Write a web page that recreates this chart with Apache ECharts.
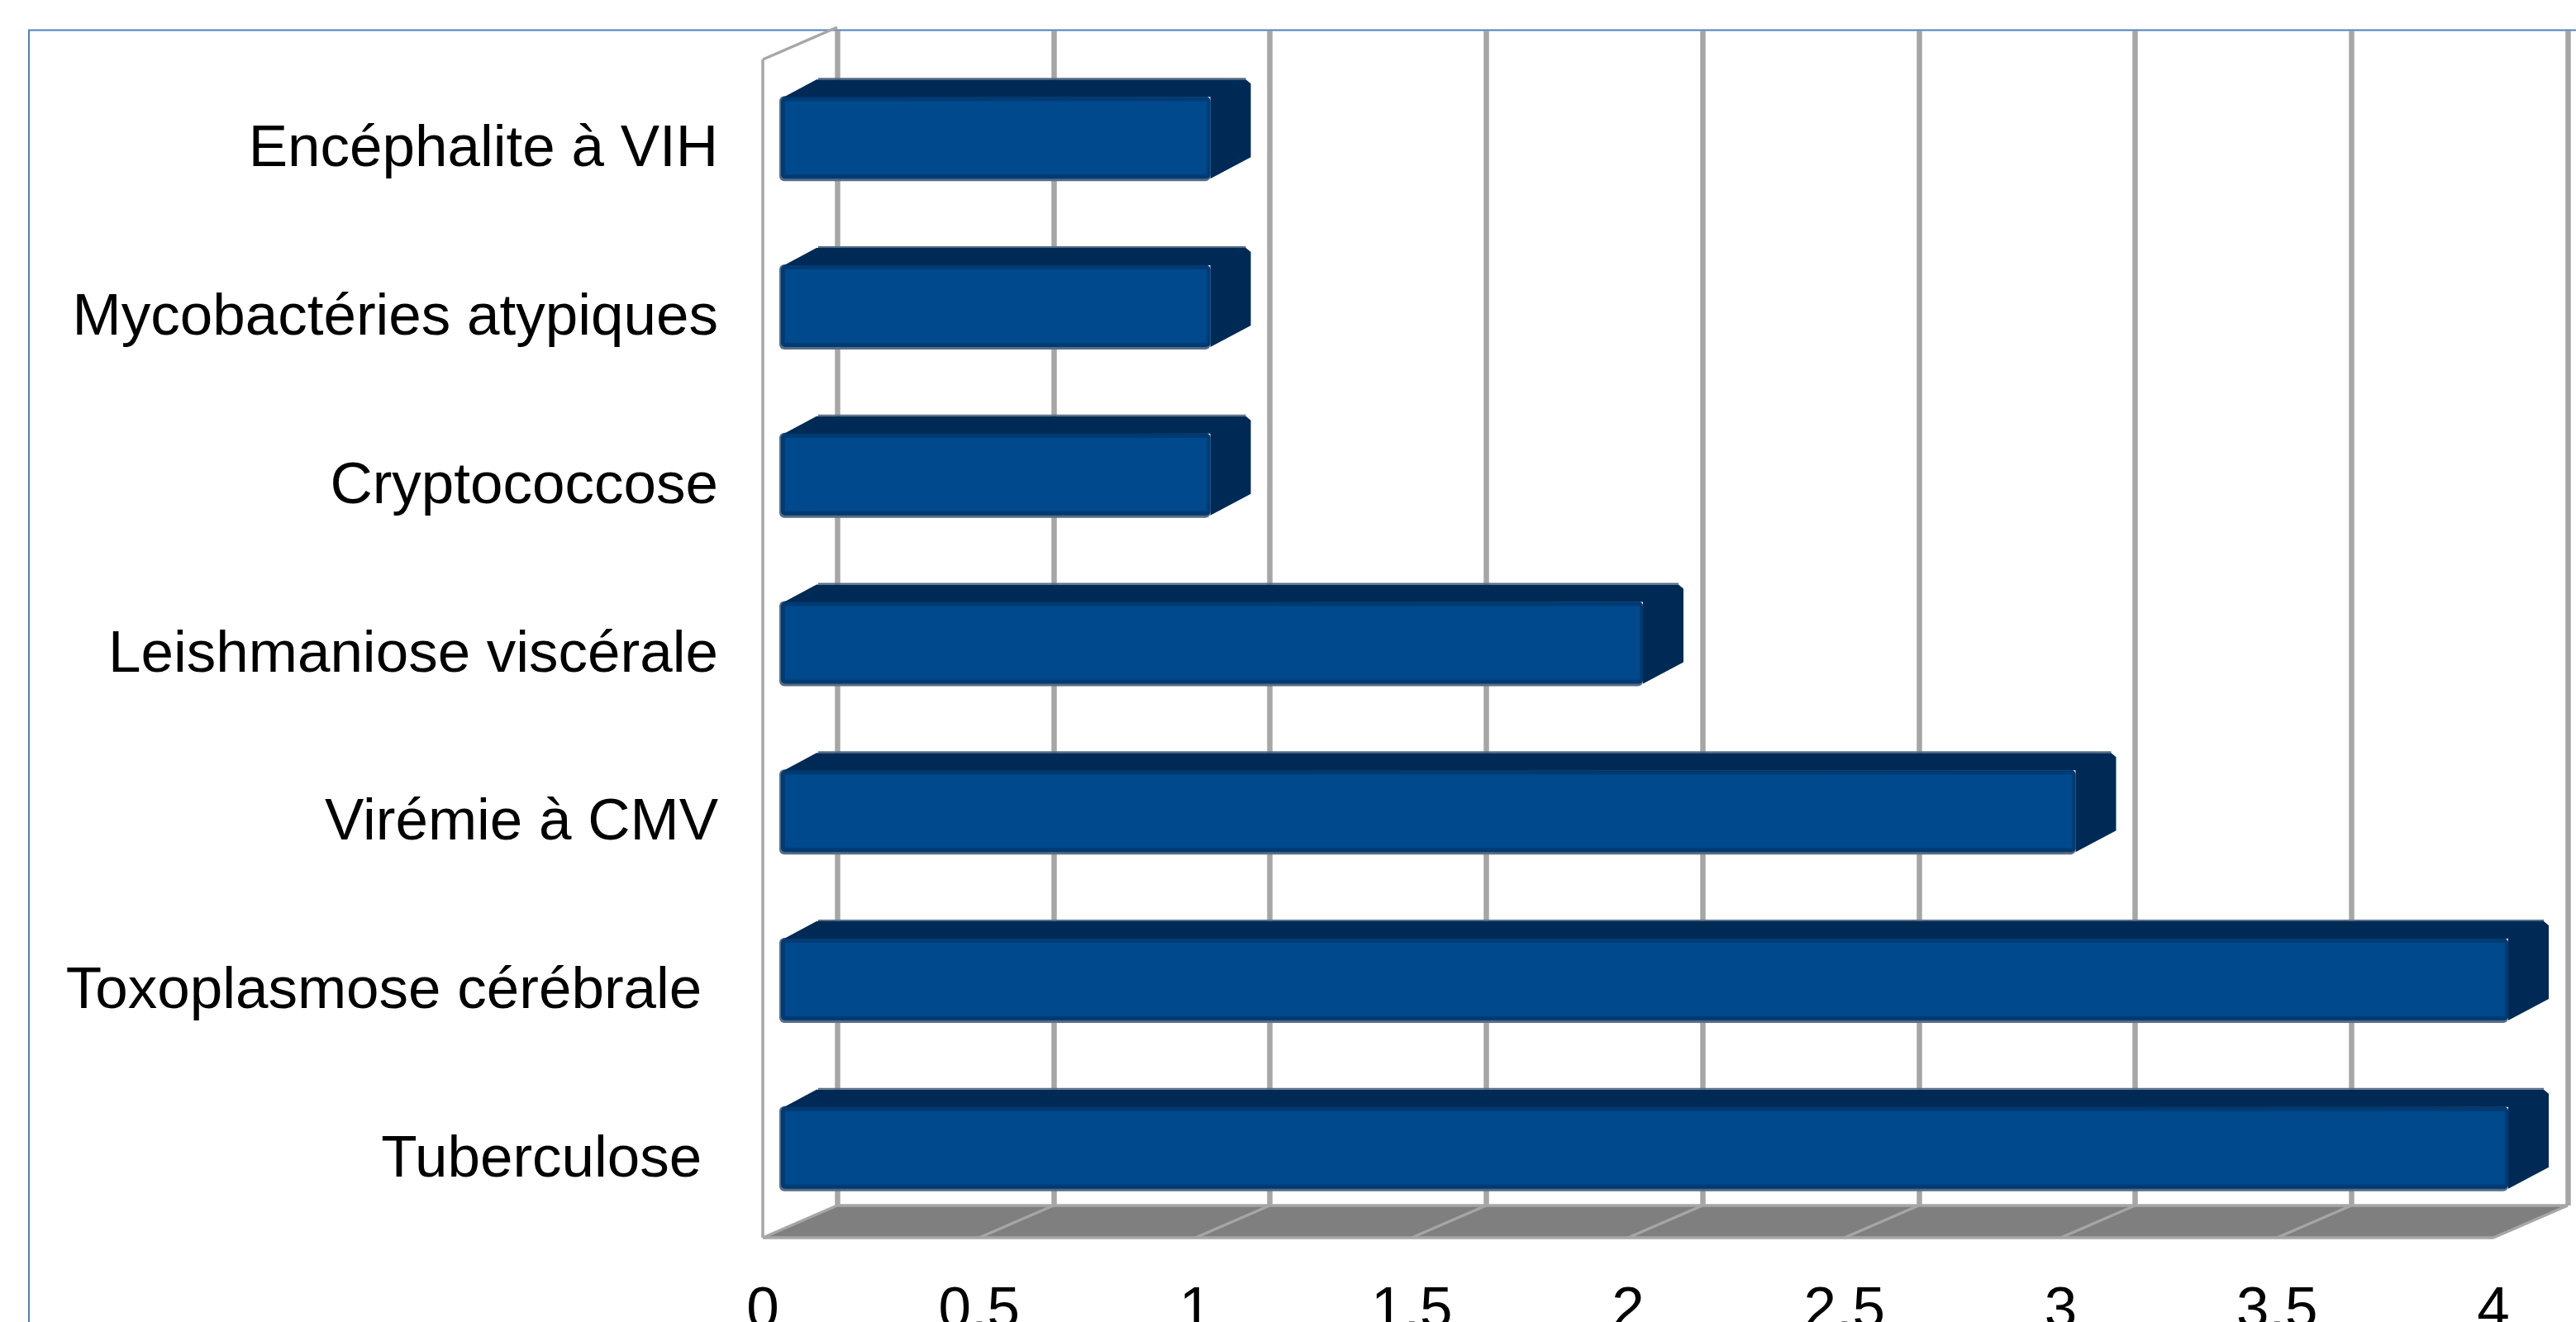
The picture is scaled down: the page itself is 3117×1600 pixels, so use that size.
<!DOCTYPE html>
<html>
<head>
<meta charset="utf-8">
<style>html,body{margin:0;padding:0;background:#fff}#c{width:3117px;height:1600px}</style>
<script src="https://cdn.jsdelivr.net/npm/echarts@6/dist/echarts.min.js"></script>
</head>
<body>
<div id="c"></div>
<script>
const categories = ["Tuberculose ", "Toxoplasmose cérébrale ", "Virémie à CMV", "Leishmaniose viscérale", "Cryptococcose", "Mycobactéries atypiques", "Encéphalite à VIH"];
const values = [4, 4, 3, 2, 1, 1, 1];
const ticks = [0, 0.5, 1, 1.5, 2, 2.5, 3, 3.5, 4];

const FRONT = '#00498c', EDGE = '#003a72', DARK = '#002a56', HALO = '#566d85';
const GRID = '#a6a6a6', FLOOR = '#7f7f7f', FRAME = '#4f81bd';
const WALL_DX = 90, WALL_DY = -39;      // oblique depth of the chart box
const BAR_OFF_X = 18, BAR_OFF_Y = -7;   // bar front face inside the box
const BAR_DX = 49, BAR_DY = -21;        // oblique depth of a bar
const BAR_H = 99;

const chart = echarts.init(document.getElementById('c'), null, {renderer: 'canvas'});

function renderFloor(params, api) {
  const cs = params.coordSys;
  const b = cs.y + cs.height, l = cs.x, r = cs.x + cs.width;
  const kids = [{
    type: 'polygon', silent: true,
    shape: {points: [[l, b], [r, b], [r + WALL_DX, b + WALL_DY], [l + WALL_DX, b + WALL_DY]]},
    style: {fill: FLOOR}
  }];
  ticks.forEach(t => {
    const x = api.coord([t, 0])[0];
    kids.push({type: 'line', silent: true,
      shape: {x1: x, y1: b, x2: x + WALL_DX, y2: b + WALL_DY},
      style: {stroke: GRID, lineWidth: 3.5}});
  });
  const ln = (x1, y1, x2, y2) => ({type: 'line', silent: true, shape: {x1, y1, x2, y2}, style: {stroke: GRID, lineWidth: 3.5}});
  kids.push(ln(l, b, r, b));
  kids.push(ln(l + WALL_DX, b + WALL_DY, r + WALL_DX, b + WALL_DY));
  kids.push(ln(l, cs.y, l, b));
  kids.push(ln(l, cs.y, l + WALL_DX, cs.y + WALL_DY));
  return {type: 'group', children: kids};
}

function renderBar(params, api) {
  const p0 = api.coord([0, api.value(1)]);
  const p1 = api.coord([api.value(0), api.value(1)]);
  const x0 = p0[0] + BAR_OFF_X + 4, x1 = p1[0] + BAR_OFF_X;
  const cy = p0[1] + BAR_OFF_Y;
  const t = cy - BAR_H / 2, b = cy + BAR_H / 2;
  return {type: 'group', children: [
    {type: 'rect', silent: true, shape: {x: x0 - 2, y: t - 1, width: x1 - x0 + 2, height: BAR_H + 4, r: 6}, style: {fill: HALO}},
    {type: 'polygon', silent: true,
      shape: {points: [[x0 + 2, t + 1], [x0 + BAR_DX - 6, t + BAR_DY], [x1 + BAR_DX - 6, t + BAR_DY], [x1 + BAR_DX, t + BAR_DY + 5], [x1 + BAR_DX, b + BAR_DY - 5], [x1, b], [x1, t]]},
      style: {fill: DARK}},
    {type: 'line', silent: true, shape: {x1: x0 + BAR_DX - 4, y1: t + BAR_DY - 1, x2: x1 + BAR_DX - 6, y2: t + BAR_DY - 1}, style: {stroke: HALO, lineWidth: 2}},
    {type: 'rect', silent: true, shape: {x: x0, y: t, width: x1 - x0, height: BAR_H, r: 5}, style: {fill: EDGE}},
    {type: 'rect', silent: true, shape: {x: x0 + 5, y: t + 5, width: x1 - x0 - 9, height: BAR_H - 10}, style: {fill: FRONT}}
  ]};
}

chart.setOption({
  animation: false,
  backgroundColor: '#ffffff',
  textStyle: {fontFamily: '"Liberation Sans", Arial, sans-serif'},
  graphic: [
    {type: 'rect', silent: true, z: 0, shape: {x: 35, y: 36.5, width: 3200, height: 1700}, style: {fill: '#fff', stroke: FRAME, lineWidth: 2}}
  ],
  grid: [
    {left: 923, top: 72, width: 2094, height: 1426, outerBoundsMode: 'none', containLabel: false},
    {left: 1013, top: 37, width: 2094, height: 1422, outerBoundsMode: 'none', containLabel: false},
    {left: 923, top: 80, width: 2094, height: 1426, outerBoundsMode: 'none', containLabel: false}
  ],
  xAxis: [
    {type: 'value', gridIndex: 0, min: 0, max: 4, interval: 0.5, splitLine: {show: false},
      axisLine: {show: false}, axisTick: {show: false},
      axisLabel: {fontSize: 71, color: '#000', margin: 54, verticalAlign: 'top',
        formatter: v => String(v), hideOverlap: false, showMinLabel: true, showMaxLabel: true}},
    {type: 'value', gridIndex: 1, min: 0, max: 4, interval: 0.5,
      axisLine: {show: false}, axisTick: {show: false}, axisLabel: {show: false},
      splitLine: {show: true, showMinLine: true, showMaxLine: true, lineStyle: {color: GRID, width: 6.5}}},
    {type: 'value', gridIndex: 2, min: 0, max: 4, show: false}
  ],
  yAxis: [
    {type: 'category', gridIndex: 0, data: categories, show: false},
    {type: 'category', gridIndex: 1, data: categories, show: false},
    {type: 'category', gridIndex: 2, data: categories,
      axisLine: {show: false}, axisTick: {show: false}, splitLine: {show: false},
      axisLabel: {fontSize: 71, color: '#000', margin: 54, interval: 0, align: 'right'}}
  ],
  series: [
    {type: 'custom', name: 'floor', xAxisIndex: 0, yAxisIndex: 0, z: 2, silent: true,
      renderItem: renderFloor, data: [[0, 0]], encode: {x: 0, y: 1}, clip: false},
    {type: 'custom', name: 'cases', xAxisIndex: 0, yAxisIndex: 0, z: 3, silent: true,
      renderItem: renderBar, clip: false,
      data: values.map((v, i) => [v, i]), encode: {x: 0, y: 1}}
  ]
});
</script>
</body>
</html>
